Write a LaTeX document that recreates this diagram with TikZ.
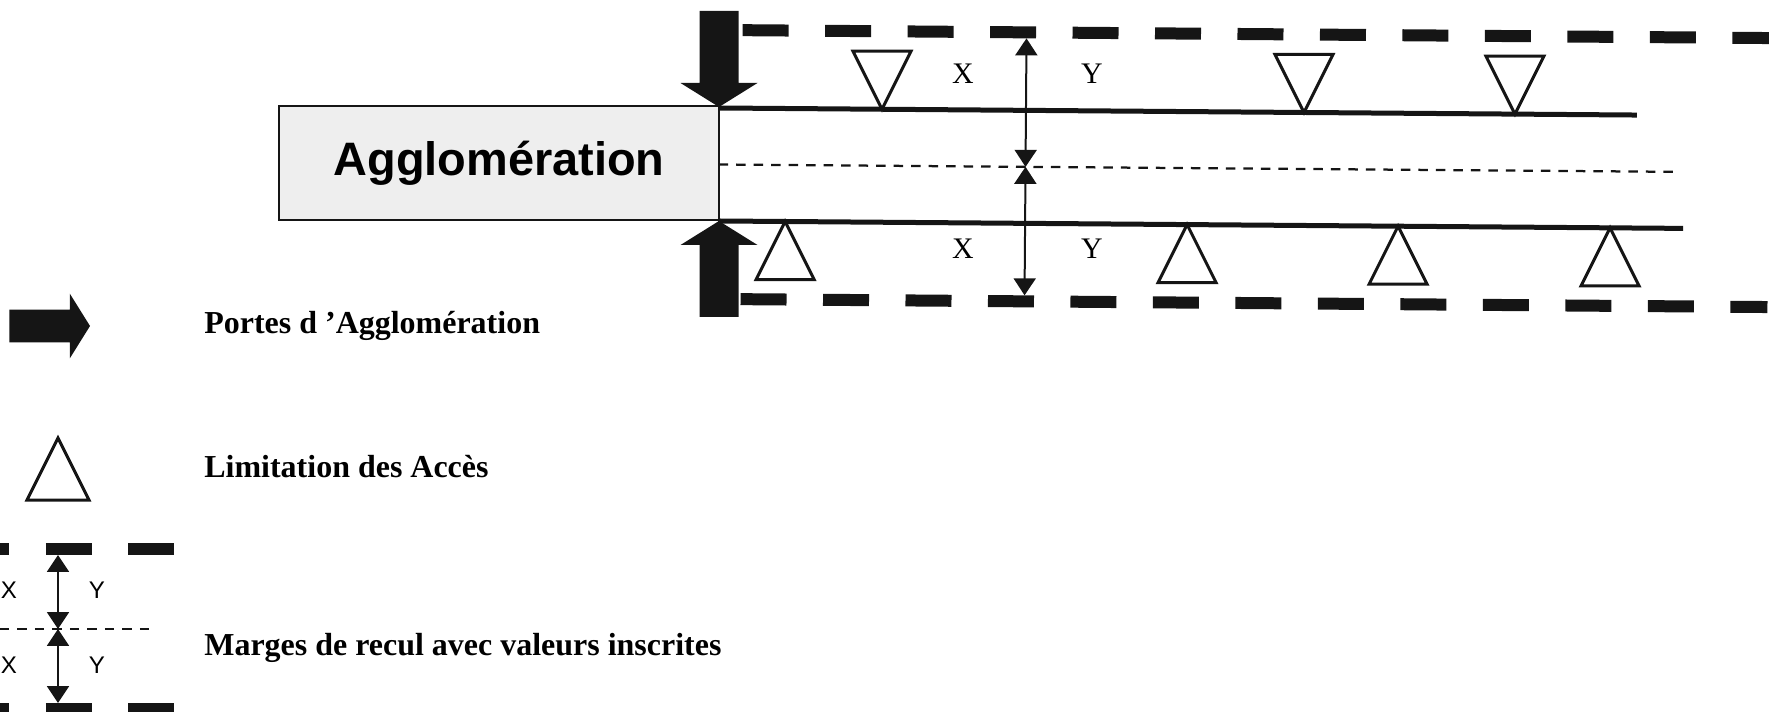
\documentclass[tikz,border=0pt]{standalone}
\usepackage{fontspec}
\setmainfont{Liberation Serif}
\setsansfont{Liberation Sans}
\usepackage{tikz}
\usetikzlibrary{arrows.meta}
\definecolor{encre}{HTML}{151515}
\definecolor{fondagglo}{HTML}{EEEEEE}

\tikzset{
  pics/porte/.style={code={
    \fill[encre] (0,0) -- (-24,38.5) -- (-24,19.5) -- (-96,19.5) -- (-96,-19.5) -- (-24,-19.5) -- (-24,-38.5) -- cycle;}},
  pics/acces/.style={code={
    \draw[encre, line width=0.06cm] (0,0) -- (29,58) -- (-29,58) -- cycle;}}
}

\begin{document}
\begin{tikzpicture}[x=0.02cm, y=-0.02cm,
  agglo/.style={draw=encre, line width=0.04cm, fill=fondagglo, minimum width=8.8cm, minimum height=2.28cm, font=\sffamily\bfseries\fontsize{26.7}{30}\selectfont},
  bord/.style={draw=encre, line width=0.1cm},
  axe/.style={draw=encre, line width=0.045cm, dash pattern=on 0.19cm off 0.16cm},
  tirets/.style={draw=encre, line width=0.24cm, dash pattern=on 0.92cm off 0.73cm},
  cote/.style={draw=encre, line width=0.04cm, >={Triangle[width=0.44cm,length=0.34cm]}, <->},
  lettre/.style={inner sep=0, font=\fontsize{17}{19}\selectfont},
  lettreleg/.style={inner sep=0, font=\sffamily\fontsize{13.7}{16}\selectfont},
  legende/.style={inner sep=0, anchor=base west, font=\bfseries\fontsize{18.2}{20}\selectfont}]
  \useasboundingbox (0,0) rectangle (1769,712);

  % agglomeration and road
  \node[agglo] (agglo) at (499,163) {Agglomération};
  \begin{scope}[rotate around={-0.44:(719,108)}]
    \coordinate (bordH) at (719,108);
    \coordinate (bordB) at (719,221);
    \coordinate (axeG) at (719,164.5);
    \draw[bord] (bordH) -- (1637,108);
    \draw[bord] (bordB) -- (1684,221);
    \draw[axe] (axeG) -- (1680,164.5);
    \draw[tirets] (742,30) -- (1769,30);
    \draw[tirets] (742,299) -- (1769,299);
    % limitation des acces
    \foreach \x in {882,1304,1515}
      \pic[yscale=-1] at (\x,108) {acces};
    \foreach \x in {786,1188,1399,1611}
      \pic at (\x,221) {acces};
    % marges de recul
    \coordinate (tiretH) at (1026,36);
    \coordinate (axeC) at (1026,164.5);
    \coordinate (tiretB) at (1026,293);
    \draw[cote] (tiretH) -- (axeC);
    \draw[cote] (axeC) -- (tiretB);
  \end{scope}
  \node[lettre] (xH) at (963,74) {X};
  \node[lettre] (yH) at (1092,74) {Y};
  \node[lettre] (xB) at (963,249) {X};
  \node[lettre] (yB) at (1092,249) {Y};

  % portes
  \pic[rotate=-90] at (719,107) {porte};
  \pic[rotate=90] at (719,221) {porte};

  % legend
  \pic[scale=0.84] at (90,326) {porte};
  \node[legende] (lporte) at (204,334) {Portes d ’Agglomération};
  \pic[scale=1.07] at (58,438) {acces};
  \node[legende] (lacces) at (204,478) {Limitation des Accès};
  \draw[tirets, dash phase=0.73cm] (0,549) -- (174,549);
  \draw[tirets, dash phase=0.73cm] (0,709) -- (174,709);
  \draw[axe] (0,629) -- (152,629);
  \coordinate (legH) at (58,555);
  \coordinate (legC) at (58,629);
  \coordinate (legB) at (58,703);
  \draw[cote] (legH) -- (legC);
  \draw[cote] (legC) -- (legB);
  \node[lettreleg] (lx1) at (9,590) {X};
  \node[lettreleg] (ly1) at (97,590) {Y};
  \node[lettreleg] (lx2) at (9,665) {X};
  \node[lettreleg] (ly2) at (97,665) {Y};
  \node[legende] (lmarges) at (204,656) {Marges de recul avec valeurs inscrites};
\end{tikzpicture}
\end{document}
